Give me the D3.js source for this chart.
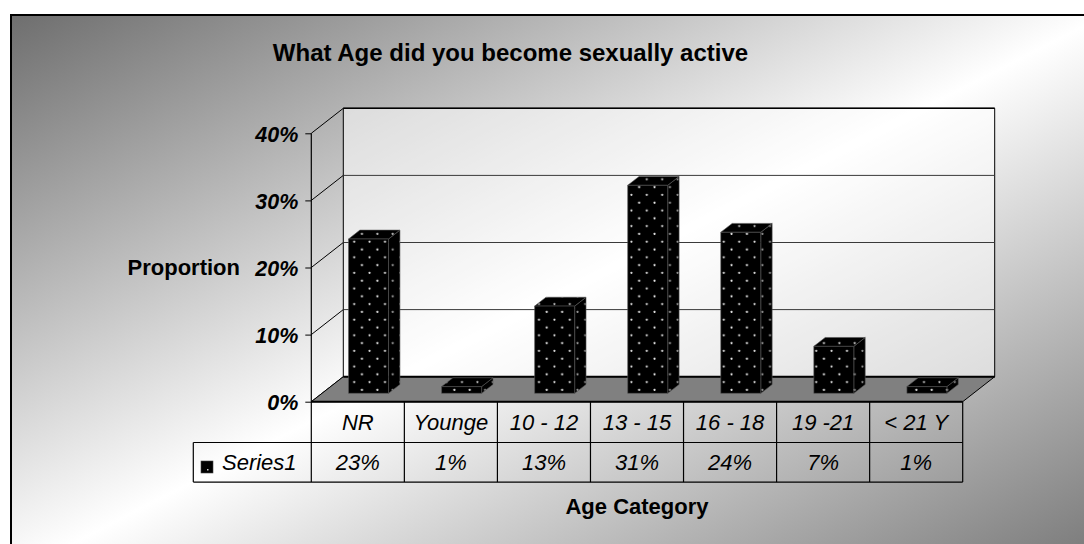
<!DOCTYPE html>
<html>
<head>
<meta charset="utf-8">
<script src="https://cdn.jsdelivr.net/npm/d3@7"></script>
<style>
  html, body { margin: 0; padding: 0; background: #fff; }
  svg { display: block; font-family: "Liberation Sans", Arial, sans-serif; }
</style>
</head>
<body>
<div id="chart"></div>
<script>
// chart data
var categories = ["NR", "Younge", "10 - 12", "13 - 15", "16 - 18", "19 -21", "< 21 Y"];
var values = [0.23, 0.01, 0.13, 0.31, 0.24, 0.07, 0.01];
var yTicks = [0, 0.1, 0.2, 0.3, 0.4];
var seriesName = "Series1";

var W = 1084, H = 544;
var svg = d3.select("#chart").append("svg").attr("width", W).attr("height", H);
var defs = svg.append("defs");

// background gradient (dark corners, light diagonal band)
var bg = defs.append("linearGradient").attr("id", "bgGrad")
  .attr("x1", 0).attr("y1", 0).attr("x2", 1).attr("y2", 1);
bg.append("stop").attr("offset", "0").attr("stop-color", "#6e6e6e");
bg.append("stop").attr("offset", "0.5").attr("stop-color", "#ffffff");
bg.append("stop").attr("offset", "1").attr("stop-color", "#747474");

// dotted bar fills
function dots(id, dotColor) {
  var p = defs.append("pattern").attr("id", id)
    .attr("patternUnits", "userSpaceOnUse")
    .attr("width", 15.4).attr("height", 15.6)
    .attr("x", 347).attr("y", 2);
  p.append("rect").attr("width", 15.4).attr("height", 15.6).attr("fill", "#000");
  p.append("circle").attr("cx", 7.2).attr("cy", 5.7).attr("r", 1.1).attr("fill", dotColor);
  p.append("circle").attr("cx", 14.9).attr("cy", 13.5).attr("r", 1.1).attr("fill", dotColor);
  p.append("circle").attr("cx", -0.5).attr("cy", 13.5).attr("r", 1.1).attr("fill", dotColor);
}
dots("dotFront", "#e8e8e8");
dots("dotSide", "#9a9a9a");
dots("dotTop", "#c8c8c8");

svg.append("rect").attr("x", 11).attr("y", 15).attr("width", 1095).attr("height", 560)
  .attr("fill", "url(#bgGrad)").attr("stroke", "#000").attr("stroke-width", 2);

// 3d geometry
var x0 = 311.3, x1 = 962.7;
var depthX = 32, depthY = -25;
var x = d3.scaleBand().domain(categories).range([x0, x1]);
var y = d3.scaleLinear().domain([0, 0.4]).range([401.7, 133.3]);
var barW = x.bandwidth() * 0.43;
var zFront = 0.335, zBack = 0.69;

function pt(px, v, z) { return [px + depthX * z, y(v) + depthY * z]; }
function poly(pts) { return "M" + pts.map(function (p) { return p[0] + "," + p[1]; }).join("L") + "Z"; }

var yMax = yTicks[yTicks.length - 1];

// back wall
svg.append("path")
  .attr("d", poly([pt(x0, 0, 1), pt(x1, 0, 1), pt(x1, yMax, 1), pt(x0, yMax, 1)]))
  .attr("fill", "#fff").attr("fill-opacity", 0.55)
  .attr("stroke", "#000").attr("stroke-width", 1);

// gridlines on wall and side diagonals
yTicks.forEach(function (t) {
  var a = pt(x0, t, 1), b = pt(x1, t, 1), c = pt(x0, t, 0);
  if (t > 0 && t < yMax) {
    svg.append("line").attr("x1", a[0]).attr("y1", a[1]).attr("x2", b[0]).attr("y2", b[1])
      .attr("stroke", "#3a3a3a").attr("stroke-width", 1);
  }
  svg.append("line").attr("x1", c[0]).attr("y1", c[1]).attr("x2", a[0]).attr("y2", a[1])
    .attr("stroke", "#000").attr("stroke-width", 1);
});
var tl = pt(x0, yMax, 1), tr = pt(x1, yMax, 1);
svg.append("line").attr("x1", tl[0]).attr("y1", tl[1]).attr("x2", tr[0]).attr("y2", tr[1])
  .attr("stroke", "#000").attr("stroke-width", 1.6);

// floor
svg.append("path")
  .attr("d", poly([pt(x0, 0, 0), pt(x1, 0, 0), pt(x1, 0, 1), pt(x0, 0, 1)]))
  .attr("fill", "#808080").attr("stroke", "#000").attr("stroke-width", 1);
var fb0 = pt(x0, 0, 1), fb1 = pt(x1, 0, 1);
svg.append("line").attr("x1", fb0[0]).attr("y1", fb0[1]).attr("x2", fb1[0]).attr("y2", fb1[1])
  .attr("stroke", "#000").attr("stroke-width", 2);

// bars
var bars = svg.append("g").selectAll("g").data(categories).enter().append("g");
bars.each(function (c, i) {
  var g = d3.select(this);
  var xl = x(c) + (x.bandwidth() - barW) / 2, xr = xl + barW, v = values[i];
  g.append("path")
    .attr("d", poly([pt(xr, 0, zFront), pt(xr, 0, zBack), pt(xr, v, zBack), pt(xr, v, zFront)]))
    .attr("fill", "url(#dotSide)").attr("stroke", "#555").attr("stroke-width", 0.6);
  g.append("path")
    .attr("d", poly([pt(xl, v, zFront), pt(xr, v, zFront), pt(xr, v, zBack), pt(xl, v, zBack)]))
    .attr("fill", "url(#dotTop)").attr("stroke", "#555").attr("stroke-width", 0.6);
  g.append("path")
    .attr("d", poly([pt(xl, 0, zFront), pt(xr, 0, zFront), pt(xr, v, zFront), pt(xl, v, zFront)]))
    .attr("fill", "url(#dotFront)").attr("stroke", "#555").attr("stroke-width", 0.6);
});

// floor front edge
svg.append("line").attr("x1", x0).attr("y1", y(0)).attr("x2", x1).attr("y2", y(0))
  .attr("stroke", "#000").attr("stroke-width", 2);

// value axis
var rowH = 40.8;
var tableTop = y(0), tableMid = tableTop + rowH, tableBot = tableMid + 39.6;
svg.append("line").attr("x1", x0).attr("y1", y(yMax)).attr("x2", x0).attr("y2", tableBot)
  .attr("stroke", "#000").attr("stroke-width", 1.2);
var axis = svg.append("g").attr("transform", "translate(" + x0 + ",0)")
  .call(d3.axisLeft(y).tickValues(yTicks).tickFormat(d3.format(".0%")).tickSize(6).tickPadding(7));
axis.select(".domain").remove();
axis.selectAll(".tick line").attr("stroke", "#000");
axis.selectAll(".tick text")
  .attr("fill", "#000")
  .style("font-family", "'Liberation Sans', Arial, sans-serif")
  .style("font-size", "21.5px").style("font-weight", "bold").style("font-style", "italic")
  .attr("dy", "0.36em");

// titles
svg.append("text").attr("x", 510.5).attr("y", 61).attr("text-anchor", "middle")
  .style("font-size", "24px").style("font-weight", "bold").text("What Age did you become sexually active");
svg.append("text").attr("x", 240).attr("y", y(0.2)).attr("dy", "0.36em").attr("text-anchor", "end")
  .style("font-size", "22px").style("font-weight", "bold").text("Proportion");
svg.append("text").attr("x", (x0 + x1) / 2).attr("y", 514).attr("text-anchor", "middle")
  .style("font-size", "22px").style("font-weight", "bold").text("Age Category");

// data table
var tbl = svg.append("g").attr("stroke", "#000").attr("stroke-width", 1.2);
tbl.append("line").attr("x1", 193.3).attr("y1", tableMid).attr("x2", x1).attr("y2", tableMid);
tbl.append("line").attr("x1", 193.3).attr("y1", tableBot).attr("x2", x1).attr("y2", tableBot);
tbl.append("line").attr("x1", 193.3).attr("y1", tableMid).attr("x2", 193.3).attr("y2", tableBot);
categories.forEach(function (c) {
  var xe = x(c) + x.bandwidth();
  tbl.append("line").attr("x1", xe).attr("y1", tableTop).attr("x2", xe).attr("y2", tableBot);
});

svg.append("g").selectAll("text").data(categories).enter().append("text")
  .attr("x", function (c) { return x(c) + x.bandwidth() / 2; })
  .attr("y", (tableTop + tableMid) / 2).attr("dy", "0.36em").attr("text-anchor", "middle")
  .style("font-size", "22px").style("font-style", "italic")
  .text(function (c) { return c; });
svg.append("g").selectAll("text").data(values).enter().append("text")
  .attr("x", function (v, i) { return x(categories[i]) + x.bandwidth() / 2; })
  .attr("y", (tableMid + tableBot) / 2).attr("dy", "0.36em").attr("text-anchor", "middle")
  .style("font-size", "22px").style("font-style", "italic")
  .text(function (v) { return d3.format(".0%")(v); });

// legend key
svg.append("rect").attr("x", 201).attr("y", 461).attr("width", 12).attr("height", 12)
  .attr("fill", "#000").attr("stroke", "#444").attr("stroke-width", 0.6);
svg.append("rect").attr("x", 207).attr("y", 469).attr("width", 1.5).attr("height", 1.5).attr("fill", "#ccc");
svg.append("text").attr("x", 222).attr("y", (tableMid + tableBot) / 2).attr("dy", "0.36em")
  .style("font-size", "22px").style("font-style", "italic").text(seriesName);
</script>
</body>
</html>
